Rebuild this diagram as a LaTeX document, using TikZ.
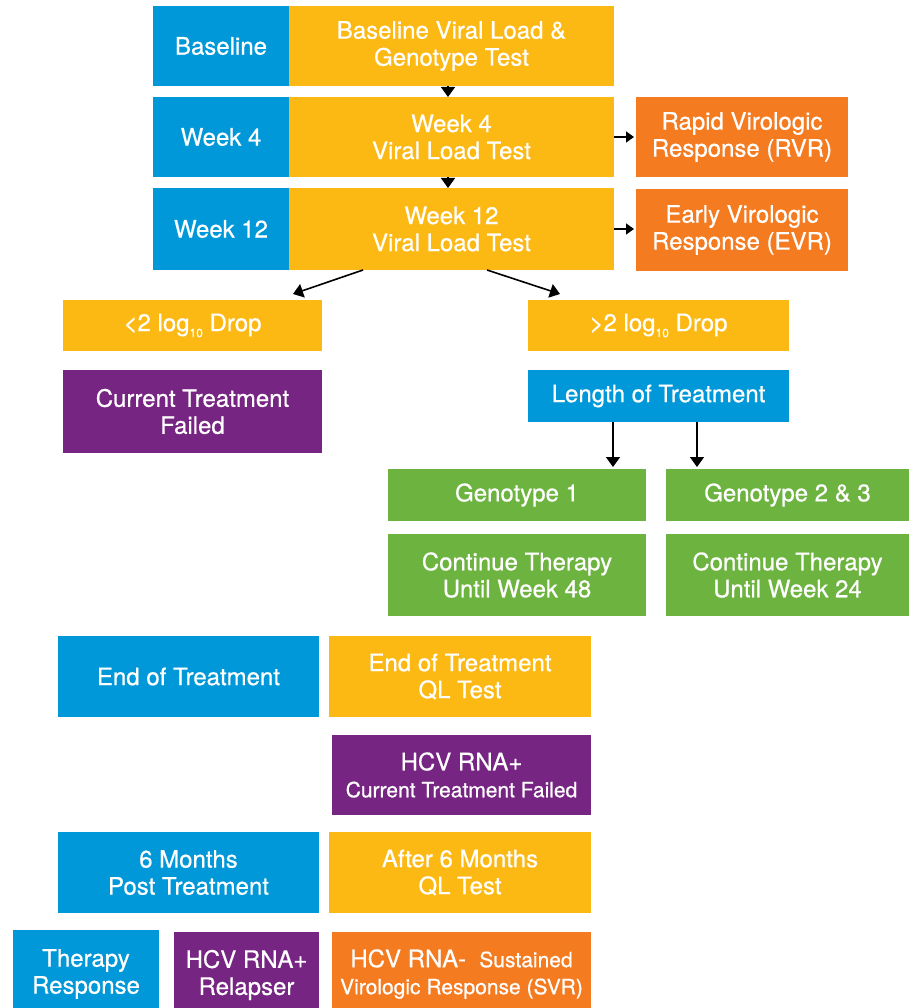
\documentclass[tikz,border=0pt]{standalone}
\usepackage{fontspec}
\setmainfont{TeX Gyre Heros}[FakeBold=0.6]
\usetikzlibrary{arrows.meta}
\definecolor{cblue}{RGB}{0,152,216}
\definecolor{cyel}{RGB}{253,185,19}
\definecolor{corg}{RGB}{244,123,32}
\definecolor{cpur}{RGB}{119,37,131}
\definecolor{cgrn}{RGB}{109,179,63}
\newcommand{\mysub}[1]{\raisebox{-6pt}{\fontsize{12}{12}\selectfont #1}}
\newcommand{\smallf}{\fontsize{21}{24}\selectfont}
\begin{document}
\begin{tikzpicture}[x=1pt,y=-1pt,
  box/.style={rectangle, inner sep=0pt, outer sep=0pt, text=white, align=center, font=\fontsize{24}{27}\selectfont},
  wh/.style 2 args={minimum width=#1pt, minimum height=#2pt},
  arr/.style={line width=1.6pt, -{Triangle[width=14pt,length=10pt]}},
  sarr/.style={line width=1.6pt, -{Triangle[width=11pt,length=8pt]}, shorten >=2pt}]
\useasboundingbox (0,0) rectangle (909,1008);
\node[box, fill=cblue, wh={136}{80}] (bl) at (221,46) {Baseline};
\node[box, fill=cyel, wh={325}{80}] (blt) at (451.5,46) {Baseline Viral Load \&\\Genotype Test};
\node[box, fill=cblue, wh={136}{80}] (w4) at (221,137) {Week 4};
\node[box, fill=cyel, wh={325}{80}] (w4t) at (451.5,137) {Week 4\\Viral Load Test};
\node[box, fill=corg, wh={212}{80}] (rvr) at (742,137) {Rapid Virologic\\Response (RVR)};
\node[box, fill=cblue, wh={136}{82}] (w12) at (221,229) {Week 12};
\node[box, fill=cyel, wh={325}{82}] (w12t) at (451.5,229) {Week 12\\Viral Load Test};
\node[box, fill=corg, wh={212}{81}] (evr) at (742,230) {Early Virologic\\Response (EVR)};
\node[box, fill=cyel, wh={259}{51}] (lt) at (192.5,325.5) {<2 log\mysub{10} Drop};
\node[box, fill=cyel, wh={261}{51}] (gt) at (658.5,325.5) {>2 log\mysub{10} Drop};
\node[box, fill=cpur, wh={259}{83}] (ctf) at (192.5,411.5) {Current Treatment\\Failed};
\node[box, fill=cblue, wh={261}{52}] (len) at (658.5,396) {Length of Treatment};
\node[box, fill=cgrn, wh={258}{52}] (g1) at (517,495) {Genotype 1};
\node[box, fill=cgrn, wh={243}{52}] (g23) at (787.5,495) {Genotype 2 \& 3};
\node[box, fill=cgrn, wh={258}{82}] (c48) at (517,575) {Continue Therapy\\Until Week 48};
\node[box, fill=cgrn, wh={243}{82}] (c24) at (787.5,575) {Continue Therapy\\Until Week 24};
\node[box, fill=cblue, wh={261}{81}] (eot) at (188.5,676.5) {End of Treatment};
\node[box, fill=cyel, wh={262}{81}] (eotq) at (460,676.5) {End of Treatment\\QL Test};
\node[box, fill=cpur, wh={259}{80}] (hcvp) at (461.5,775) {HCV RNA+\\{\smallf Current Treatment Failed}};
\node[box, fill=cblue, wh={261}{81}] (six) at (188.5,872.5) {6 Months\\Post Treatment};
\node[box, fill=cyel, wh={262}{81}] (sixq) at (460,872.5) {After 6 Months\\QL Test};
\node[box, fill=cblue, wh={146}{78}] (tr) at (86,969) {};
\node[box, fill=cpur, wh={145}{76}] (rel) at (246.5,970) {};
\node[box, fill=corg, wh={259}{76}] (svr) at (461.5,970) {};
\node[box] (trt) at ([yshift=-5pt]tr.center) {Therapy\\Response};
\node[box] (relt) at ([yshift=-5pt]rel.center) {HCV RNA+\\Relapser};
\node[box] (svrt) at ([yshift=-4pt]svr.center) {HCV RNA-\ \ {\smallf Sustained}\\{\smallf Virologic Response (SVR)}};
% arrows
\draw[arr] ([xshift=-3.5pt]blt.south) -- ([xshift=-3.5pt]w4t.north);
\draw[arr] ([xshift=-3.5pt]w4t.south) -- ([xshift=-3.5pt]w12t.north);
\draw[sarr] (w4t.east) -- (w4t.east -| rvr.west);
\draw[sarr] (w12t.east) -- (w12t.east -| evr.west);
\draw[arr] ([xshift=74pt]w12t.south west) -- ([xshift=-29pt,yshift=6pt]lt.north east);
\draw[arr] ([xshift=198pt]w12t.south west) -- ([xshift=32pt,yshift=6pt]gt.north west);
\coordinate (l1) at ([xshift=85pt]len.south west);
\coordinate (l2) at ([xshift=169pt]len.south west);
\draw[arr, shorten >=2pt] (l1) -- (l1 |- g1.north);
\draw[arr, shorten >=2pt] (l2) -- (l2 |- g23.north);
\end{tikzpicture}
\end{document}
